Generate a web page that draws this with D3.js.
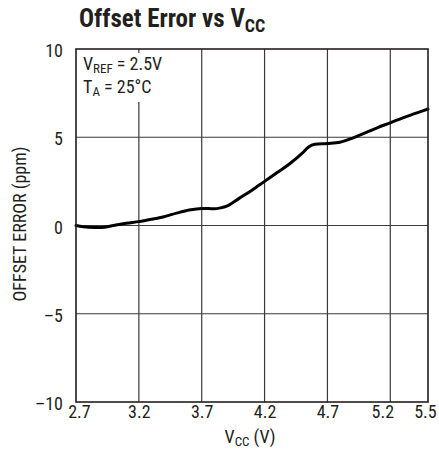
<!DOCTYPE html>
<html>
<head>
<meta charset="utf-8">
<script src="https://cdn.jsdelivr.net/npm/d3@7"></script>
<style>
  html, body { margin: 0; padding: 0; background: #fff; }
  svg { display: block; }
  text { font-family: "Liberation Sans Narrow", "Roboto Condensed", "Liberation Sans", Arial, sans-serif; fill: #231f20; }
</style>
</head>
<body>
<svg id="chart" width="439" height="459"></svg>
<script>
// Supply voltage (V) and measured offset error (ppm)
const vcc = [2.7, 2.8, 2.9, 3.0, 3.1, 3.2, 3.3, 3.4, 3.5, 3.6, 3.7, 3.8, 3.85, 3.9, 4.0, 4.1, 4.2, 4.3, 4.4, 4.5, 4.55, 4.6, 4.7, 4.8, 4.9, 5.0, 5.1, 5.2, 5.3, 5.4, 5.5];
const offsetPpm = [0, -0.1, -0.12, 0, 0.13, 0.22, 0.35, 0.5, 0.7, 0.88, 0.97, 0.95, 1.0, 1.1, 1.55, 2.0, 2.5, 3.0, 3.5, 4.1, 4.45, 4.6, 4.65, 4.72, 4.95, 5.25, 5.55, 5.82, 6.1, 6.35, 6.6];

const xTicks = [2.7, 3.2, 3.7, 4.2, 4.7, 5.2, 5.5];
const yTicks = [-10, -5, 0, 5, 10];

const svg = d3.select("#chart");
const plot = { left: 76, right: 428, top: 49, bottom: 402 };

const x = d3.scaleLinear().domain([2.7, 5.5]).range([plot.left, plot.right]);
const y = d3.scaleLinear().domain([-10, 10]).range([plot.bottom, plot.top]);

// Title with subscript
const title = svg.append("text")
  .attr("x", 79).attr("y", 27)
  .style("font-size", "25px").style("font-weight", "bold");
title.append("tspan").text("Offset Error vs V");
title.append("tspan").attr("dy", 5).style("font-size", "18px").text("CC");

// Grid
const grid = svg.append("g");
grid.selectAll("line.v")
  .data(xTicks.slice(1, -1))
  .join("line")
  .attr("x1", d => x(d)).attr("x2", d => x(d))
  .attr("y1", plot.top).attr("y2", plot.bottom)
  .attr("stroke", "#3a3a3a").attr("stroke-width", 1.2);
grid.selectAll("line.h")
  .data(yTicks.slice(1, -1))
  .join("line")
  .attr("x1", plot.left).attr("x2", plot.right)
  .attr("y1", d => y(d)).attr("y2", d => y(d))
  .attr("stroke", "#3a3a3a").attr("stroke-width", 1.2);

// Conditions box (white background hides the grid under the text)
svg.append("rect")
  .attr("x", plot.left + 2).attr("y", plot.top + 4)
  .attr("width", 98).attr("height", 49)
  .attr("fill", "#fff");
const cond = svg.append("g").style("font-size", "18px");
const c1 = cond.append("text").attr("x", 83).attr("y", 70);
c1.append("tspan").text("V");
c1.append("tspan").attr("dy", 3).style("font-size", "13px").text("REF");
c1.append("tspan").attr("dy", -3).text(" = 2.5V");
const c2 = cond.append("text").attr("x", 83).attr("y", 93);
c2.append("tspan").text("T");
c2.append("tspan").attr("dy", 3).style("font-size", "13px").text("A");
c2.append("tspan").attr("dy", -3).text(" = 25°C");

// Curve
const line = d3.line()
  .x((d, i) => x(vcc[i]))
  .y(d => y(d))
  .curve(d3.curveMonotoneX);
svg.append("path")
  .datum(offsetPpm)
  .attr("d", line)
  .attr("fill", "none")
  .attr("stroke", "#000")
  .attr("stroke-width", 3)
  .attr("stroke-linejoin", "round")
  .attr("stroke-linecap", "round");

// Frame
svg.append("rect")
  .attr("x", plot.left).attr("y", plot.top)
  .attr("width", plot.right - plot.left).attr("height", plot.bottom - plot.top)
  .attr("fill", "none").attr("stroke", "#231f20").attr("stroke-width", 1.6);

// Axes (labels only; ticks are the grid)
// Edge labels are nudged so they don't collide with neighbours
const xLabelShift = { 2.7: 3, 5.2: -8, 5.5: -3 };
const xAxis = d3.axisBottom(x).tickValues(xTicks).tickSize(0).tickPadding(3).tickFormat(d3.format(".1f"));
const gx = svg.append("g").attr("transform", `translate(0,${plot.bottom})`).call(xAxis);
gx.select(".domain").remove();
gx.selectAll("text").style("font-size", "18px").style("font-family", null)
  .attr("fill", "#231f20")
  .attr("dx", d => xLabelShift[d] || 0);

const yAxis = d3.axisLeft(y).tickValues(yTicks).tickSize(0).tickPadding(13)
  .tickFormat(d => d < 0 ? "\u2013" + Math.abs(d) : String(d));
const gy = svg.append("g").attr("transform", `translate(${plot.left},0)`).call(yAxis);
gy.select(".domain").remove();
gy.selectAll("text").style("font-size", "18px").style("font-family", null)
  .attr("fill", "#231f20").attr("dy", "0.42em");

// Axis titles
const xt = svg.append("text").attr("x", 250).attr("y", 443)
  .attr("text-anchor", "middle").style("font-size", "18px");
xt.append("tspan").text("V");
xt.append("tspan").attr("dy", 3).style("font-size", "13px").text("CC");
xt.append("tspan").attr("dy", -3).text(" (V)");

svg.append("text")
  .attr("transform", "translate(26,224) rotate(-90)")
  .attr("text-anchor", "middle").style("font-size", "18px")
  .text("OFFSET ERROR (ppm)");
</script>
</body>
</html>
